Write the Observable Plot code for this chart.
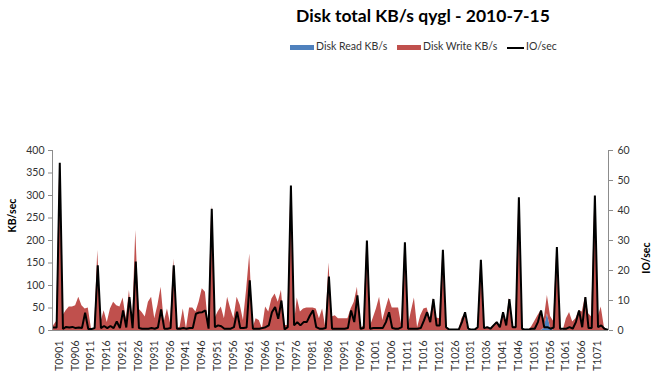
<!DOCTYPE html>
<html>
<head>
<meta charset="utf-8">
<script src="https://cdn.jsdelivr.net/npm/d3@7"></script>
<script src="https://cdn.jsdelivr.net/npm/@observablehq/plot@0.6"></script>
<style>
  body { margin: 0; background: #fff; font-family: Lato, "Open Sans", sans-serif; }
  #head { position: relative; width: 657px; height: 60px; }
  #title { position: absolute; top: 5px; left: 423px; transform: translateX(-50%); white-space: nowrap;
           font-size: 17.5px; font-weight: bold; color: #000; }
  .lg { position: absolute; top: 40px; font-size: 10.5px; color: #333; white-space: nowrap; }
  .sw { position: absolute; top: 45px; height: 5px; }
  .ln { position: absolute; top: 46.5px; height: 2px; background: #000; }
</style>
</head>
<body>
<div id="head">
  <div id="title">Disk total KB/s qygl - 2010-7-15</div>
  <div class="sw" style="left:290px;width:24px;background:#4F81BD"></div>
  <div class="lg" style="left:316px">Disk Read KB/s</div>
  <div class="sw" style="left:397px;width:24px;background:#C0504D"></div>
  <div class="lg" style="left:423px">Disk Write KB/s</div>
  <div class="ln" style="left:507px;width:17px"></div>
  <div class="lg" style="left:526px">IO/sec</div>
</div>
<div id="chart"></div>
<script>
// categories T0901 .. T1076
const categories = d3.range(901, 1077).map(n => "T" + String(n).padStart(4, "0"));
// tick labels every 5th category, T0901 .. T1071
const tickLabels = categories.filter((c, i) => i % 5 === 0 && i <= 170);

// Disk Write KB/s
const diskWrite = [
  10, 20, 372, 33, 44, 52, 52, 55, 74, 55,
  48, 50, 4, 5, 178, 18, 44, 18, 48, 63,
  55, 52, 72, 26, 89, 18, 222, 48, 40, 30,
  63, 74, 26, 56, 96, 19, 48, 15, 159, 4,
  7, 48, 4, 50, 50, 41, 63, 93, 85, 11,
  278, 26, 41, 52, 26, 74, 48, 26, 74, 56,
  22, 90, 170, 4, 26, 22, 4, 52, 41, 70,
  81, 63, 89, 11, 11, 322, 7, 72, 41, 48,
  50, 50, 50, 48, 26, 48, 7, 150, 30, 33,
  26, 26, 26, 26, 48, 63, 96, 4, 10, 200,
  7, 27, 48, 74, 22, 48, 72, 50, 50, 50,
  11, 195, 7, 41, 72, 6, 33, 48, 50, 26,
  70, 28, 26, 179, 7, 0, 0, 0, 0, 26,
  37, 0, 0, 0, 5, 157, 5, 7, 2, 11,
  19, 8, 41, 12, 72, 8, 8, 296, 3, 0,
  0, 8, 20, 33, 44, 20, 41, 26, 20, 185,
  4, 0, 26, 40, 19, 26, 44, 41, 74, 37,
  30, 300, 29, 52, 7, 0
];
// Disk Read KB/s
const diskRead = categories.map(() => 0);
diskRead[155] = 5; diskRead[156] = 37; diskRead[157] = 5;

// IO/sec
const ioSec = [
  1.0, 1.0, 55.9, 0.5, 1.2, 1.0, 1.2, 0.8, 1.0, 0.8,
  5.9, 0.5, 0.5, 0.8, 21.7, 0.8, 1.5, 0.8, 1.5, 0.8,
  3.0, 0.8, 6.7, 1.0, 11.1, 0.8, 23.0, 0.8, 0.6, 0.6,
  0.6, 0.8, 0.6, 1.0, 7.0, 0.6, 0.6, 0.8, 21.7, 0.6,
  0.6, 0.8, 0.6, 0.8, 0.8, 5.6, 6.0, 6.1, 6.7, 0.6,
  40.6, 1.1, 1.7, 1.4, 0.6, 0.6, 0.6, 1.1, 6.3, 0.8,
  0.8, 1.0, 16.7, 0.6, 0.6, 0.6, 0.8, 1.1, 1.7, 6.1,
  7.8, 3.9, 10.0, 0.4, 1.1, 48.3, 1.7, 2.8, 1.7, 2.8,
  2.8, 5.0, 6.7, 1.1, 0.6, 0.6, 0.8, 18.0, 0.6, 0.6,
  0.6, 0.6, 0.6, 0.8, 6.7, 2.8, 11.7, 0.6, 0.8, 30.0,
  0.6, 0.8, 0.8, 0.8, 0.8, 2.8, 6.1, 0.8, 0.6, 0.6,
  1.1, 29.4, 0.6, 0.6, 0.6, 0.6, 0.8, 3.3, 6.1, 2.8,
  10.5, 1.7, 1.7, 26.9, 1.1, 0.3, 0.3, 0.3, 0.3, 2.8,
  6.1, 0.6, 0.3, 0.3, 1.1, 23.6, 0.8, 1.1, 0.6, 1.7,
  2.8, 1.1, 6.1, 1.7, 10.5, 1.1, 1.1, 44.4, 0.6, 0.3,
  0.3, 0.6, 0.6, 2.8, 6.7, 1.1, 1.1, 0.6, 1.0, 27.8,
  0.6, 0.6, 0.6, 1.1, 0.6, 2.8, 6.7, 1.1, 11.1, 0.8,
  0.8, 45.0, 1.1, 1.7, 0.6, 0.3
];

const kbTicks = [0, 50, 100, 150, 200, 250, 300, 350, 400];
const ioTicks = [0, 10, 20, 30, 40, 50, 60];
const KB_MAX = 400, IO_MAX = 60;
const k = KB_MAX / IO_MAX;

const areaRows = [];
categories.forEach((c, i) => {
  areaRows.push({i, series: "Disk Read KB/s", value: diskRead[i]});
  areaRows.push({i, series: "Disk Write KB/s", value: diskWrite[i]});
});
const xDomain = [-0.3, categories.length - 0.7];

const chart = Plot.plot({
  width: 657,
  height: 315,
  marginTop: 90,
  marginBottom: 45,
  marginLeft: 52,
  marginRight: 49,
  style: {fontFamily: "Lato, 'Open Sans', sans-serif", background: "#fff"},
  x: {type: "linear", domain: xDomain},
  y: {domain: [0, KB_MAX]},
  color: {domain: ["Disk Read KB/s", "Disk Write KB/s"], range: ["#4F81BD", "#C0504D"]},
  marks: [
    Plot.areaY(areaRows, {x: "i", y: "value", fill: "series", curve: "linear"}),
    Plot.lineY(ioSec, {x: (d, i) => i, y: d => d * k, stroke: "#000", strokeWidth: 2, strokeLinejoin: "miter"}),
    Plot.ruleY([0], {stroke: "#8c8c8c"}),
    Plot.ruleX([xDomain[0]], {stroke: "#8c8c8c"}),
    Plot.ruleX([xDomain[1]], {stroke: "#8c8c8c"}),
    Plot.axisY({anchor: "left", ticks: kbTicks, tickSize: 4, tickPadding: 4, label: null,
                fontSize: 10.5, fill: "#333", stroke: "#8c8c8c"}),
    Plot.axisY({anchor: "right", ticks: ioTicks.map(v => v * k), tickFormat: v => String(Math.round(v / k)),
                tickSize: 4, tickPadding: 5, label: null, fontSize: 10.5, fill: "#333", stroke: "#8c8c8c"}),
    Plot.axisX({ticks: tickLabels.map((t, j) => j * 5), tickFormat: i => categories[i], tickRotate: -90,
                tickSize: 0, tickPadding: 10, dx: 6, label: null, fontSize: 10.5, fill: "#333"}),
    Plot.text(["KB/sec"], {frameAnchor: "left", dx: -40, dy: -8, rotate: -90, fontWeight: "bold", fontSize: 10.5, fill: "#000"}),
    Plot.text(["IO/sec"], {frameAnchor: "right", dx: 38, dy: 2, rotate: -90, fontWeight: "bold", fontSize: 10.5, fill: "#000"})
  ]
});
document.getElementById("chart").appendChild(chart);
</script>
</body>
</html>
